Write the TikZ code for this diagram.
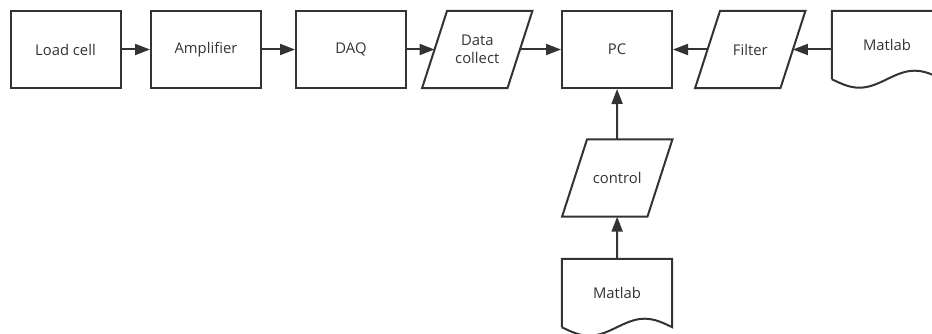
\documentclass[tikz,border=0pt]{standalone}
\usepackage{fontspec}
\setmainfont{Open Sans}
\usetikzlibrary{arrows.meta,calc}
\definecolor{ln}{HTML}{333333}
\definecolor{tx}{HTML}{333333}
\begin{document}
\begin{tikzpicture}[x=1pt,y=-1pt,
  txt/.style={text=tx, font=\fontsize{14.8}{18}\selectfont, align=center, inner sep=0pt},
  box/.style={txt, draw=ln, line width=2pt, minimum width=110pt, minimum height=77pt},
  ghost/.style={txt, minimum width=85pt, minimum height=77pt},
  docnode/.style={txt, minimum width=110pt, minimum height=77pt},
  shp/.style={draw=ln, line width=2pt, line join=miter},
  arr/.style={draw=ln, line width=2pt, -{Triangle[length=15pt,width=11pt]}}]
\useasboundingbox (0,0) rectangle (932,334);

% rectangles
\node[box] (lc)  at (65.5,49.5) {Load cell};
\node[box] (amp) at (206,49.5) {Amplifier};
\node[box] (daq) at (351,49.5) {DAQ};
\node[box] (pc)  at (617,49.5) {PC};

% parallelograms
\node[ghost] (dc)   at (477.25,49.5) {Data\\collect};
\node[ghost] (filt) at (750.25,49.5) {Filter};
\node[ghost] (ctrl) at (617.25,178) {control};
\foreach \n in {dc,filt,ctrl}
  \draw[shp] ([xshift=12.5pt]\n.north west) -- ([xshift=12.5pt]\n.north east)
    -- ([xshift=-12.5pt]\n.south east) -- ([xshift=-12.5pt]\n.south west) -- cycle;

% documents
\node[docnode] (m1) at (887,49.5) {};
\node[docnode] (m2) at (617,297.5) {};
\node[txt] (m1t) at ([yshift=4.5pt]m1.center) {Matlab};
\node[txt] (m2t) at ([yshift=4.5pt]m2.center) {Matlab};
\foreach \n in {m1,m2}
  \draw[shp] ([yshift=9pt]\n.south west) -- (\n.north west) -- (\n.north east)
    -- ([yshift=9pt]\n.south east)
    sin ($(\n.south east)+(-27.5pt,17.5pt)$)
    cos ($(\n.south)+(0pt,9pt)$)
    sin ($(\n.south west)+(27.5pt,0.5pt)$)
    cos ([yshift=9pt]\n.south west);

% connectors
\draw[arr] (lc) -- (amp);
\draw[arr] (amp) -- (daq);
\draw[arr] (daq) -- (dc);
\draw[arr] (dc) -- (pc);
\draw[arr] (filt) -- (pc);
\draw[arr] (m1) -- (filt);
\draw[arr] (ctrl) -- (pc);
\draw[arr] (m2) -- (ctrl);
\end{tikzpicture}
\end{document}
